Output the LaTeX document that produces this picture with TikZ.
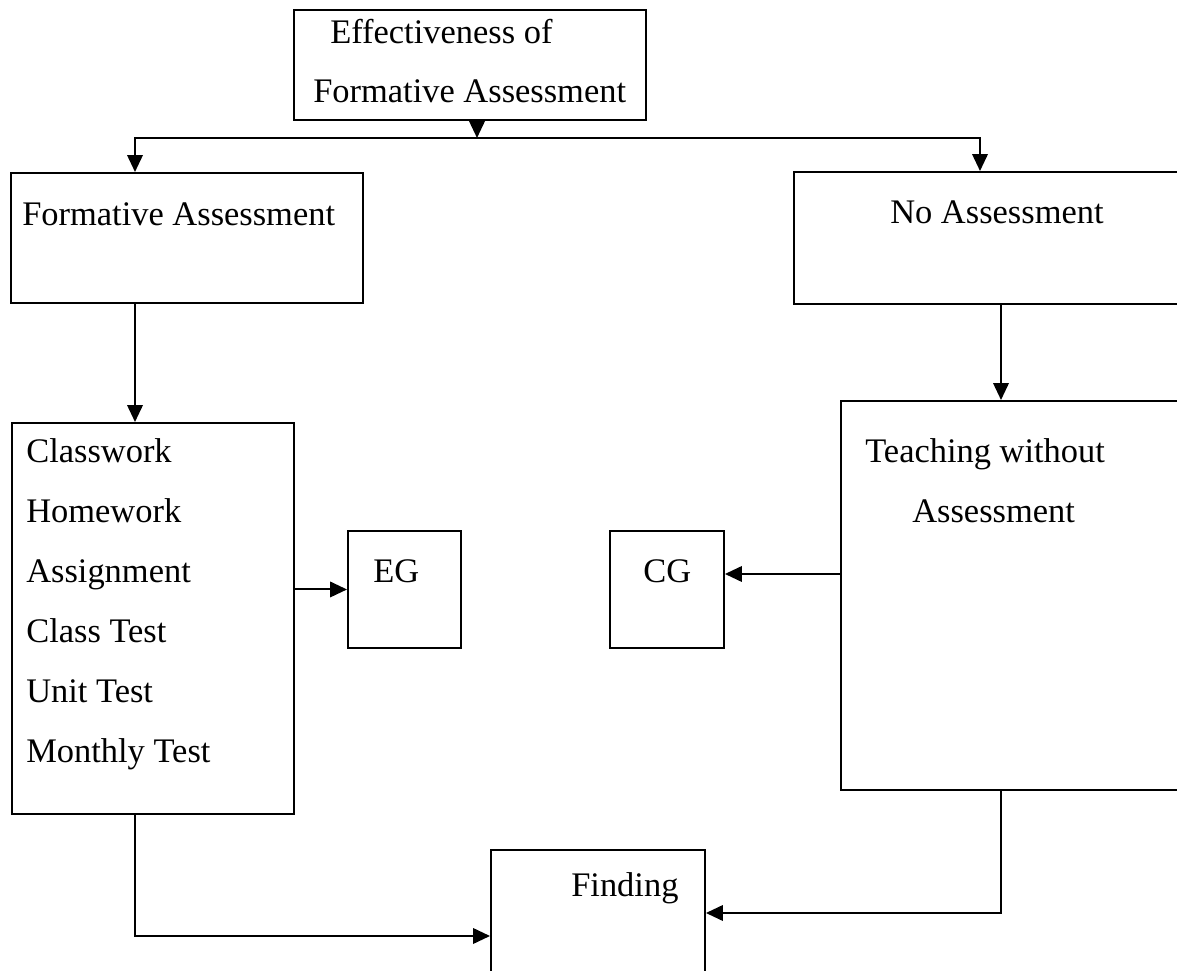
\documentclass[tikz,border=0pt]{standalone}
\usepackage{fontspec}
\setmainfont{Liberation Serif}
\usepackage{tikz}
\usetikzlibrary{arrows.meta,calc}

\begin{document}
\begin{tikzpicture}[>={Triangle[length=12pt,width=11pt]},
  box/.style={draw, black, line width=1.4pt, rectangle, anchor=north west, inner sep=0pt},
  txt/.style={anchor=base west, inner sep=0pt, font=\fontsize{24.5}{29}\selectfont},
  link/.style={black, line width=1.4pt, ->}]
\useasboundingbox (0,0) rectangle (29.425,24.25);
\clip (0,0) rectangle (29.425,24.25);

\node [box, minimum width=8.8cm, minimum height=2.75cm] (eff) at (7.325,24.025) {};
\node [box, minimum width=8.8cm, minimum height=3.25cm] (fa) at (0.25,19.95) {};
\node [box, minimum width=12cm, minimum height=3.3cm] (na) at (19.825,19.975) {};
\node [box, minimum width=7.05cm, minimum height=9.775cm] (cw) at (0.275,13.7) {};
\node [box, minimum width=2.825cm, minimum height=2.925cm] (eg) at (8.675,11) {};
\node [box, minimum width=2.85cm, minimum height=2.925cm] (cg) at (15.225,11) {};
\node [box, minimum width=12cm, minimum height=9.725cm] (tw) at (21,14.25) {};
\node [box, minimum width=5.35cm, minimum height=4cm] (fd) at (12.25,3.025) {};

\node [txt] (efftop) at (8.25,23.15) {Effectiveness of};
\node [txt] (effbot) at (7.825,21.675) {Formative Assessment};
\node [txt] (fatxt) at (0.55,18.6) {Formative Assessment};
\node [txt] (natxt) at (22.25,18.65) {No Assessment};
\foreach \t [count=\i] in {Classwork,Homework,Assignment,Class Test,Unit Test,Monthly Test}
  \node [txt] (cw\i) at (0.65,14.175-1.5*\i) {\t};
\node [txt] (egtxt) at (9.325,9.675) {EG};
\node [txt] (cgtxt) at (16.075,9.675) {CG};
\node [txt] (twtop) at (21.625,12.675) {Teaching without};
\node [txt] (twbot) at (22.8,11.175) {Assessment};
\node [txt] (fdtxt) at (14.275,1.85) {Finding};

\coordinate (split) at (11.925,20.8);
\coordinate (lcol) at (3.375,0);
\coordinate (ntop) at (24.5,0);
\coordinate (rcol) at (25.025,0);
\coordinate (cgrow) at (0,9.9);
\coordinate (lrow) at (0,0.85);
\coordinate (rrow) at (0,1.425);

\draw [link] (eff.south -| split) -- (split);
\draw [link] (split) -| (fa.north -| lcol);
\draw [link] (split) -| (na.north -| ntop);
\draw [link] (fa.south -| lcol) -- (cw.north -| lcol);
\draw [link] (na.south -| rcol) -- (tw.north -| rcol);
\draw [link] (cw.east |- eg.west) -- (eg.west);
\draw [link] (tw.west |- cgrow) -- (cg.east |- cgrow);
\draw [link] (cw.south -| lcol) |- (fd.west |- lrow);
\draw [link] (tw.south -| rcol) |- (fd.east |- rrow);
\end{tikzpicture}
\end{document}
